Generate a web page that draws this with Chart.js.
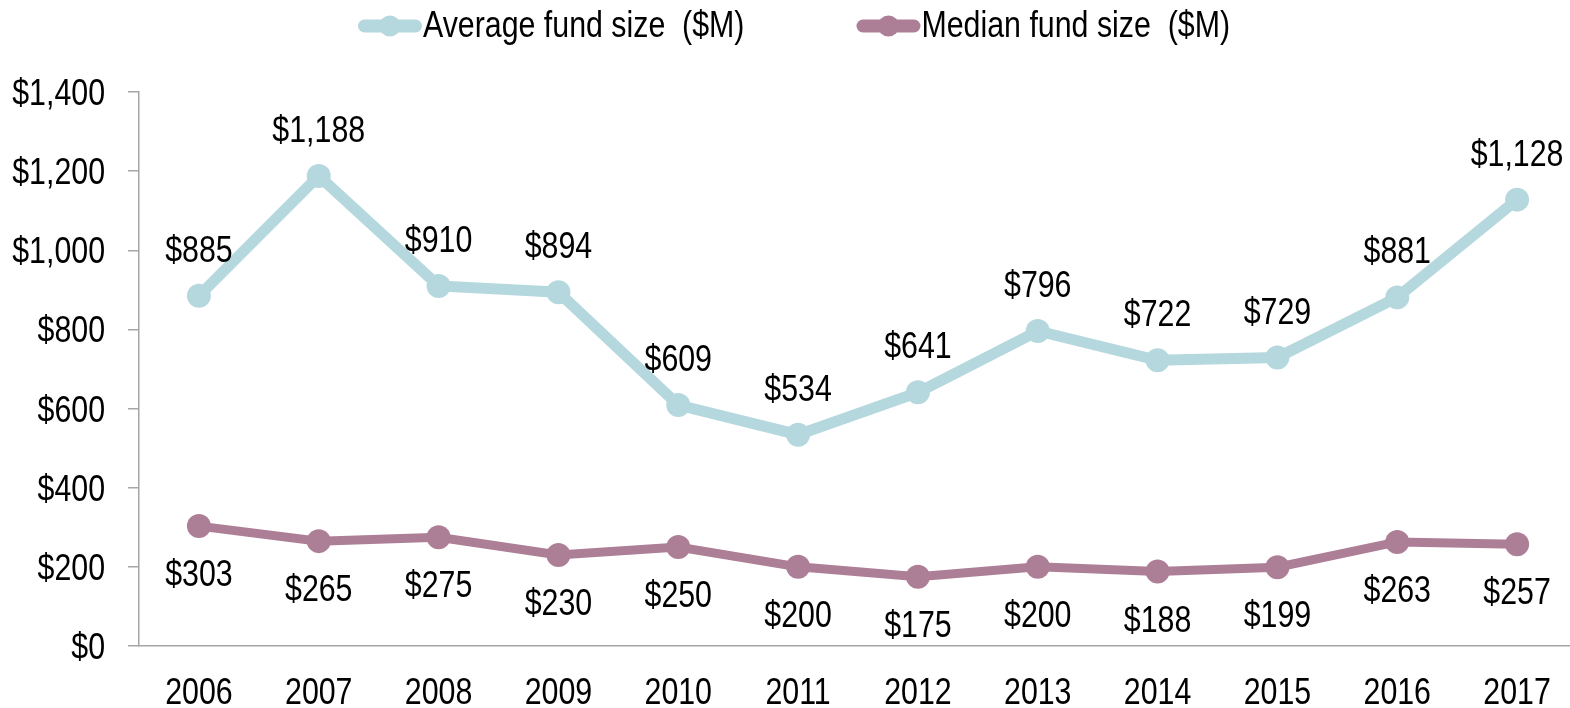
<!DOCTYPE html>
<html>
<head>
<meta charset="utf-8">
<script src="https://cdn.jsdelivr.net/npm/chart.js@4.4.0/dist/chart.umd.min.js"></script>
<style>
  html, body { margin: 0; padding: 0; background: #fff; overflow: hidden; }
  #fundChart { display: block; }
</style>
</head>
<body>
<canvas id="fundChart" width="1580" height="708"></canvas>
<script>
// Dữ liệu biểu đồ
const years = ['2006', '2007', '2008', '2009', '2010', '2011', '2012', '2013', '2014', '2015', '2016', '2017'];
const averageFund = [885, 1188, 910, 894, 609, 534, 641, 796, 722, 729, 881, 1128];
const medianFund = [303, 265, 275, 230, 250, 200, 175, 200, 188, 199, 263, 257];
const seriesNames = ['Average fund size  ($M)', 'Median fund size  ($M)'];
const yTicks = [0, 200, 400, 600, 800, 1000, 1200, 1400];

// Không có font Narrow nên co chữ theo chiều ngang
const FONT = '"Liberation Sans", Arial, sans-serif';
const FONT_SIZE = 37;
const NARROW = 0.82;
const AVG_COLOR = '#b5d8de';
const MED_COLOR = '#ad7f97';
const AXIS_COLOR = '#a6a6a6';

const money = v => '$' + v.toLocaleString('en-US');

function narrowText(c, text, x, y, align) {
    c.save();
    c.translate(x, y);
    c.scale(NARROW, 1);
    c.textAlign = align;
    c.textBaseline = 'alphabetic';
    c.fillText(text, 0, 0);
    c.restore();
}

// Nhãn trục tự vẽ (chữ hẹp)
const axisLabels = {
    id: 'axisLabels',
    afterDraw(chart) {
        const c = chart.ctx;
        c.save();
        c.font = FONT_SIZE + 'px ' + FONT;
        c.fillStyle = '#000';
        const x = chart.scales.x, y = chart.scales.y;
        x.ticks.forEach((t, i) => {
            narrowText(c, years[i], x.getPixelForTick(i), 704, 'center');
        });
        y.ticks.forEach((t, i) => {
            narrowText(c, money(t.value), 105, y.getPixelForTick(i) + 13, 'right');
        });
        c.restore();
    }
};

// Nhãn giá trị: trung bình ở trên, trung vị ở dưới
const valueLabels = {
    id: 'valueLabels',
    afterDatasetsDraw(chart) {
        const c = chart.ctx;
        c.save();
        c.font = FONT_SIZE + 'px ' + FONT;
        c.fillStyle = '#000';
        chart.data.datasets.forEach((ds, i) => {
            const offset = i === 0 ? -34 : 60;
            chart.getDatasetMeta(i).data.forEach((pt, j) => {
                narrowText(c, money(ds.data[j]), pt.x, pt.y + offset, 'center');
            });
        });
        c.restore();
    }
};

// Chú thích tự vẽ: đoạn thẳng + chấm tròn
const lineLegend = {
    id: 'lineLegend',
    afterDraw(chart) {
        const c = chart.ctx;
        c.save();
        c.font = FONT_SIZE + 'px ' + FONT;
        const sampleW = 64, gap = 1, itemGap = 112;
        const widths = chart.data.datasets.map(ds => sampleW + gap + c.measureText(ds.label).width * NARROW);
        const total = widths.reduce((a, b) => a + b, 0) + itemGap * (widths.length - 1);
        let x = (chart.width - total) / 2 + 4;
        const y = 26;
        chart.data.datasets.forEach((ds, i) => {
            c.strokeStyle = ds.borderColor;
            c.lineWidth = 13;
            c.lineCap = 'round';
            c.beginPath();
            c.moveTo(x + 6.5, y);
            c.lineTo(x + sampleW - 6.5, y);
            c.stroke();
            c.fillStyle = ds.borderColor;
            c.beginPath();
            c.arc(x + sampleW / 2, y, 10.5, 0, Math.PI * 2);
            c.fill();
            c.fillStyle = '#000';
            narrowText(c, ds.label, x + sampleW + gap, 37, 'left');
            x += widths[i] + itemGap;
        });
        c.restore();
    }
};

const ctx = document.getElementById('fundChart').getContext('2d');
new Chart(ctx, {
    type: 'line',
    data: {
        labels: years,
        datasets: [{
            label: seriesNames[0],
            data: averageFund,
            borderColor: AVG_COLOR,
            backgroundColor: AVG_COLOR,
            borderWidth: 11,
            pointRadius: 12,
            pointBackgroundColor: AVG_COLOR,
            pointBorderWidth: 0,
            tension: 0,
            clip: false
        }, {
            label: seriesNames[1],
            data: medianFund,
            borderColor: MED_COLOR,
            backgroundColor: MED_COLOR,
            borderWidth: 9,
            pointRadius: 12,
            pointBackgroundColor: MED_COLOR,
            pointBorderWidth: 0,
            tension: 0,
            clip: false
        }]
    },
    options: {
        responsive: false,
        animation: false,
        layout: { autoPadding: false, padding: { top: 92, right: 3, bottom: 0, left: 0 } },
        plugins: {
            legend: { display: false },
            tooltip: { enabled: false }
        },
        scales: {
            x: {
                offset: true,
                grid: { display: false },
                border: { display: true, color: AXIS_COLOR, width: 1.5 },
                ticks: { display: false },
                afterFit(scale) { scale.height = 62; }
            },
            y: {
                min: yTicks[0],
                max: yTicks[yTicks.length - 1],
                afterBuildTicks(scale) { scale.ticks = yTicks.map(v => ({ value: v })); },
                ticks: { display: false },
                grid: { drawOnChartArea: false, tickLength: 11, color: AXIS_COLOR, lineWidth: 1.5 },
                border: { color: AXIS_COLOR, width: 1.5 },
                afterFit(scale) { scale.width = 139; }
            }
        }
    },
    plugins: [valueLabels, axisLabels, lineLegend]
});
</script>
</body>
</html>
